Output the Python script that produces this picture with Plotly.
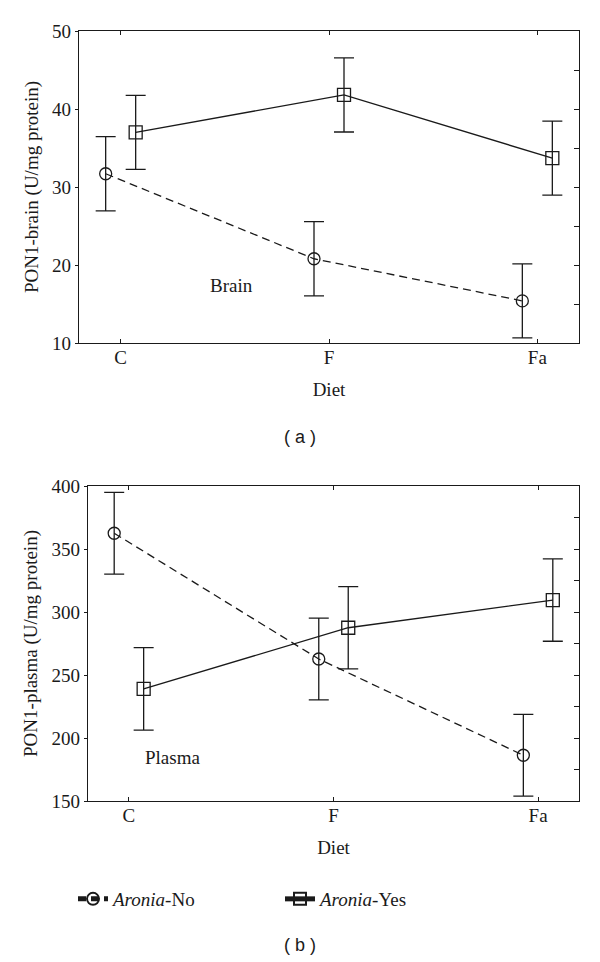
import plotly.graph_objects as go

# ---------------- data ----------------
diets = ["C", "F", "Fa"]

brain_no = [31.7, 20.8, 15.4]
brain_no_err = [4.75, 4.75, 4.75]
brain_yes = [37.0, 41.8, 33.7]
brain_yes_err = [4.75, 4.75, 4.75]

plasma_no = [362.5, 262.7, 186.3]
plasma_no_err = [32.5, 32.5, 32.5]
plasma_yes = [239.0, 287.5, 309.5]
plasma_yes_err = [32.7, 32.7, 32.7]

series_names = ["<i>Aronia</i>-No", "<i>Aronia</i>-Yes"]

# ---------------- style ----------------
FONT = "Liberation Serif"
INK = "#1a1a1a"
OFF = 0.072
PAGE = 8  # default body margin of the html page
W, H = 600 - PAGE, 962 - PAGE
FS = 19

idx = list(range(len(diets)))
x_no = [i - OFF for i in idx]
x_yes = [i + OFF for i in idx]


def err(a):
    return dict(type="data", array=a, visible=True, color=INK, thickness=1.3, width=10)


def no_trace(y, e, xa, ya, show):
    return go.Scatter(
        x=x_no, y=y, xaxis=xa, yaxis=ya, mode="lines+markers",
        name=series_names[0], legendgroup="no", showlegend=show,
        line=dict(color=INK, width=1.3, dash="8px,5px"),
        marker=dict(symbol="circle-open", size=12, color=INK, line=dict(width=1.3, color=INK)),
        error_y=err(e),
    )


def yes_trace(y, e, xa, ya, show):
    return go.Scatter(
        x=x_yes, y=y, xaxis=xa, yaxis=ya, mode="lines+markers",
        name=series_names[1], legendgroup="yes", showlegend=show,
        line=dict(color=INK, width=1.3),
        marker=dict(symbol="square-open", size=13, color=INK, line=dict(width=1.3, color=INK)),
        error_y=err(e),
    )


fig = go.Figure()
fig.add_trace(no_trace(brain_no, brain_no_err, "x", "y", True))
fig.add_trace(yes_trace(brain_yes, brain_yes_err, "x", "y", True))
fig.add_trace(no_trace(plasma_no, plasma_no_err, "x2", "y2", False))
fig.add_trace(yes_trace(plasma_yes, plasma_yes_err, "x2", "y2", False))
# helper traces so the right-hand tick axes are drawn
fig.add_trace(go.Scatter(x=[None], y=[None], xaxis="x", yaxis="y3", showlegend=False, hoverinfo="skip"))
fig.add_trace(go.Scatter(x=[None], y=[None], xaxis="x2", yaxis="y4", showlegend=False, hoverinfo="skip"))


def px_x(p):
    return (p - PAGE) / W


def px_y(p):
    return 1 - (p - PAGE) / H


tickfont = dict(family=FONT, size=FS, color=INK)
titlefont = dict(family=FONT, size=FS, color=INK)

xcommon = dict(
    tickvals=idx, ticktext=diets, range=[-0.2, 2.2], showgrid=False, zeroline=False,
    showline=True, linecolor=INK, linewidth=1.2, mirror="ticks", ticks="inside",
    ticklen=4, tickwidth=1, tickcolor=INK, tickfont=tickfont, automargin=False,
    title=dict(text="Diet", font=titlefont, standoff=15), ticklabelstandoff=-3,
)
ycommon = dict(
    showgrid=False, zeroline=False, showline=True, linecolor=INK, linewidth=1.2,
    mirror=True, ticks="outside", ticklen=3, tickwidth=1, tickcolor=INK,
    tickfont=tickfont, automargin=False,
)
yright = dict(
    showgrid=False, zeroline=False, showline=False, ticks="inside", ticklen=5,
    tickwidth=1, tickcolor=INK, showticklabels=False, side="right", automargin=False,
)

fig.update_layout(
    width=W, height=H,
    margin=dict(l=0, r=0, t=0, b=0),
    paper_bgcolor="white", plot_bgcolor="white",
    font=dict(family=FONT, size=FS, color=INK),
    xaxis=dict(xcommon, domain=[px_x(79), px_x(579)], anchor="y"),
    yaxis=dict(ycommon, domain=[px_y(343), px_y(31)], anchor="x", range=[10, 50],
               tickvals=[10, 20, 30, 40, 50],
               title=dict(text="PON1-brain (U/mg protein)", font=titlefont, standoff=8)),
    yaxis3=dict(yright, overlaying="y", anchor="x", range=[10, 50],
                tickvals=[15, 20, 25, 30, 35, 40, 45]),
    xaxis2=dict(xcommon, domain=[px_x(88), px_x(579)], anchor="y2"),
    yaxis2=dict(ycommon, domain=[px_y(801), px_y(486)], anchor="x2", range=[150, 400],
                tickvals=[150, 200, 250, 300, 350, 400],
                title=dict(text="PON1-plasma (U/mg protein)", font=titlefont, standoff=8)),
    yaxis4=dict(yright, overlaying="y2", anchor="x2", range=[150, 400],
                tickvals=[175, 200, 225, 250, 275, 300, 325, 350, 375]),
    legend=dict(
        orientation="h", x=px_x(73), y=px_y(899), xanchor="left", yanchor="middle",
        font=dict(family=FONT, size=FS, color=INK), entrywidth=162, entrywidthmode="pixels",
        bgcolor="rgba(0,0,0,0)", itemsizing="constant",
    ),
    annotations=[
        dict(text="Brain", x=0.53, y=17.4, xref="x", yref="y", showarrow=False,
             yanchor="middle", font=dict(family=FONT, size=FS, color=INK)),
        dict(text="Plasma", x=0.215, y=184.4, xref="x2", yref="y2", showarrow=False,
             yanchor="middle", font=dict(family=FONT, size=FS, color=INK)),
        dict(text="( a )", x=px_x(300), y=px_y(437), xref="paper", yref="paper", showarrow=False,
             xanchor="center", yanchor="middle",
             font=dict(family="Liberation Sans", size=18, color=INK)),
        dict(text="( b )", x=px_x(300), y=px_y(945), xref="paper", yref="paper", showarrow=False,
             xanchor="center", yanchor="middle",
             font=dict(family="Liberation Sans", size=18, color=INK)),
    ],
)

fig.write_html("out.html")
